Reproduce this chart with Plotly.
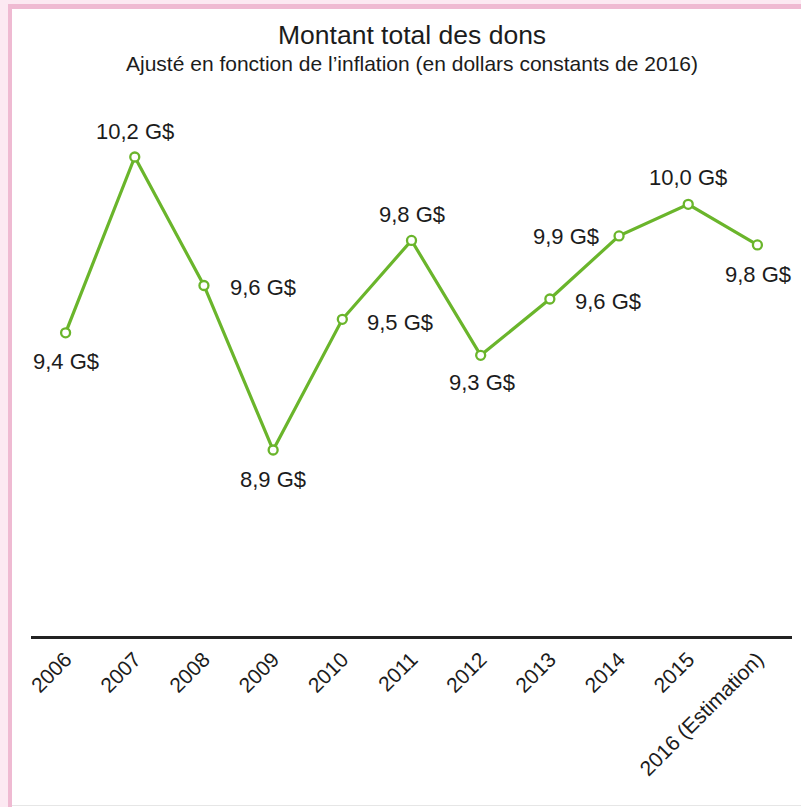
import plotly.graph_objects as go

# ---- data ----
years = ["2006", "2007", "2008", "2009", "2010", "2011", "2012", "2013", "2014", "2015", "2016 (Estimation)"]
values = [9.42, 10.20, 9.63, 8.90, 9.48, 9.83, 9.32, 9.57, 9.85, 9.99, 9.81]
labels = ["9,4 G$", "10,2 G$", "9,6 G$", "8,9 G$", "9,5 G$", "9,8 G$", "9,3 G$", "9,6 G$", "9,9 G$", "10,0 G$", "9,8 G$"]
title = "Montant total des dons"
subtitle = "Ajusté en fonction de l’inflation (en dollars constants de 2016)"

# ---- layout geometry ----
W, H = 801, 807
ML, MR, MT, MB = 31, 9, 100, 171
PW, PH = W - ML - MR, H - MT - MB

def px(x):
    return (x - ML) / PW

def py(y):
    return (H - MB - y) / PH

GREEN = "#6ab52b"
TXT = "#1c1c1c"
FONT = "Liberation Sans, Arial, Helvetica, sans-serif"

fig = go.Figure()
fig.add_trace(go.Scatter(
    x=years, y=values, mode="lines+markers",
    line=dict(color=GREEN, width=3.2),
    marker=dict(size=9, color="white", line=dict(color=GREEN, width=2.3)),
    hoverinfo="skip", showlegend=False,
))

# label placement: (xanchor, xshift, yshift)
place = [
    ("center", 0, -29), ("center", 0, 26), ("left", 24, -2), ("center", 0, -29),
    ("left", 23, -3), ("center", 0, 26), ("center", 1, -27), ("left", 23, -2),
    ("right", -18, -1), ("center", 0, 27), ("center", 1, -30),
]
annotations = []
for i, (v, lab, (xa, xs, ys)) in enumerate(zip(values, labels, place)):
    annotations.append(dict(
        x=i, y=v, xref="x", yref="y", text=lab, showarrow=False,
        xanchor=xa, yanchor="middle", xshift=xs, yshift=ys,
        font=dict(family=FONT, size=22, color=TXT),
    ))

annotations.append(dict(x=0.5, y=py(35), xref="paper", yref="paper", text=title,
                        showarrow=False, xanchor="center", yanchor="middle",
                        font=dict(family=FONT, size=26.5, color=TXT)))
annotations.append(dict(x=0.5, y=py(64), xref="paper", yref="paper", text=subtitle,
                        showarrow=False, xanchor="center", yanchor="middle",
                        font=dict(family=FONT, size=21, color=TXT)))

LIGHT = "#fce9f2"
DARK = "#efbad2"
shapes = [
    dict(type="rect", xref="paper", yref="paper", x0=px(0), x1=px(W), y0=py(0), y1=py(4),
         fillcolor=LIGHT, line=dict(width=0), layer="above"),
    dict(type="rect", xref="paper", yref="paper", x0=px(0), x1=px(8), y0=py(0), y1=py(H),
         fillcolor=LIGHT, line=dict(width=0), layer="above"),
    dict(type="rect", xref="paper", yref="paper", x0=px(8), x1=px(W), y0=py(4), y1=py(9),
         fillcolor=DARK, line=dict(width=0), layer="above"),
    dict(type="rect", xref="paper", yref="paper", x0=px(8), x1=px(12), y0=py(4), y1=py(H),
         fillcolor=DARK, line=dict(width=0), layer="above"),
    dict(type="line", xref="paper", yref="paper", x0=px(12), x1=px(W), y0=py(805.5), y1=py(805.5),
         line=dict(color="#e6e6e6", width=1), layer="above"),
]

y_lo = 10.2 - (636 - 157) / 225.4
y_hi = 10.2 + (157 - MT) / 225.4

fig.update_layout(
    width=W, height=H,
    margin=dict(l=ML, r=MR, t=MT, b=MB, pad=0),
    paper_bgcolor="white", plot_bgcolor="white",
    annotations=annotations, shapes=shapes,
    xaxis=dict(
        type="category", range=[-0.5, 10.5], showgrid=False, zeroline=False,
        showline=True, linecolor="#222222", linewidth=2.5, ticks="",
        tickangle=-45, tickfont=dict(family=FONT, size=21, color=TXT),
        fixedrange=True,
    ),
    yaxis=dict(range=[y_lo, y_hi], showgrid=False, zeroline=False, showline=False,
               showticklabels=False, ticks="", fixedrange=True),
    font=dict(family=FONT),
)

fig.write_html(
    "out.html",
    config={"displayModeBar": False},
    post_script="document.body.style.margin='0';document.body.style.overflow='hidden';",
)
